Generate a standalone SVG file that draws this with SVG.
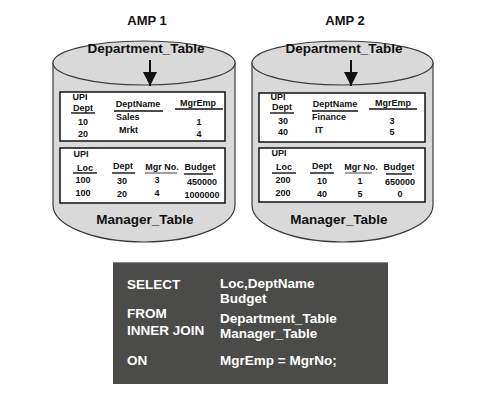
<svg xmlns="http://www.w3.org/2000/svg" width="500" height="400" viewBox="0 0 500 400">
<defs>
<style>
.cyl{fill:#d9d9d9;stroke:#3a3a3a;stroke-width:1.2}
.tbl{fill:#ffffff;stroke:#111;stroke-width:1.5}
.t{font-family:"Liberation Sans",Arial,sans-serif;font-weight:bold;fill:#111}
.h{font-size:13px}
.big{font-size:13.5px}
.s{font-size:9px}
.c{text-anchor:middle}
.ul{stroke:#111;stroke-width:1.4}
.ulg{stroke:#888;stroke-width:1.6}
.sql{font-family:"Liberation Sans",Arial,sans-serif;font-weight:bold;font-size:13.5px;fill:#ffffff}
</style>
<marker id="ah" viewBox="0 0 14 14" refX="14" refY="7" markerWidth="14" markerHeight="14" markerUnits="userSpaceOnUse" orient="auto">
<path d="M0,0 L14,7 L0,14 Z" fill="#111"/>
</marker>
</defs>
<rect width="500" height="400" fill="#ffffff"/>

<g id="amp1">
<text class="t h c" x="147" y="25">AMP 1</text>
<path class="cyl" d="M53,63 L53,205 A91,37 0 0 0 235,205 L235,63 Z"/>
<ellipse class="cyl" cx="144" cy="63" rx="91" ry="22"/>
<text class="t big c" x="146" y="53">Department_Table</text>
<rect class="tbl" x="60" y="92" width="165" height="49"/>
<text class="t s c" x="80" y="99.5">UPI</text>
<text class="t s c" x="83" y="110.5">Dept</text>
<line class="ul" x1="71" y1="113" x2="95" y2="113"/>
<text class="t s c" x="138" y="107">DeptName</text>
<line class="ul" x1="114" y1="111" x2="163" y2="111"/>
<text class="t s c" x="198" y="106">MgrEmp</text>
<line class="ul" x1="175" y1="109" x2="223" y2="109"/>
<text class="t s c" x="83" y="125">10</text>
<text class="t s" x="116" y="120">Sales</text>
<text class="t s c" x="199" y="125">1</text>
<text class="t s c" x="83" y="137">20</text>
<text class="t s" x="119" y="133">Mrkt</text>
<text class="t s c" x="199" y="137">4</text>
<rect class="tbl" x="60" y="148" width="165" height="55"/>
<text class="t s c" x="81" y="157">UPI</text>
<text class="t s c" x="85" y="171">Loc</text>
<line class="ul" x1="73" y1="173" x2="97" y2="173"/>
<text class="t s c" x="123" y="169">Dept</text>
<line class="ul" x1="112" y1="173" x2="135" y2="173"/>
<text class="t s c" x="162" y="170">Mgr No.</text>
<line class="ulg" x1="145" y1="173" x2="177" y2="173"/>
<text class="t s c" x="200" y="170">Budget</text>
<line class="ul" x1="184" y1="174" x2="213" y2="174"/>
<text class="t s c" x="83" y="183">100</text>
<text class="t s c" x="122" y="184">30</text>
<text class="t s c" x="157" y="183">3</text>
<text class="t s c" x="202" y="185">450000</text>
<text class="t s c" x="83" y="196">100</text>
<text class="t s c" x="122" y="197">20</text>
<text class="t s c" x="157" y="196">4</text>
<text class="t s c" x="202" y="198">1000000</text>
<text class="t big c" x="145" y="224">Manager_Table</text>
</g>

<g id="amp2">
<text class="t h c" x="345" y="25">AMP 2</text>
<path class="cyl" d="M252,63 L252,205 A90.5,37 0 0 0 433,205 L433,63 Z"/>
<ellipse class="cyl" cx="342.5" cy="63" rx="90.5" ry="22"/>
<text class="t big c" x="344" y="53">Department_Table</text>
<rect class="tbl" x="259" y="93" width="166" height="49"/>
<text class="t s c" x="278" y="99.5">UPI</text>
<text class="t s c" x="282" y="110">Dept</text>
<line class="ul" x1="270" y1="113" x2="294" y2="113"/>
<text class="t s c" x="335" y="107">DeptName</text>
<line class="ul" x1="312" y1="111" x2="358" y2="111"/>
<text class="t s c" x="393" y="106">MgrEmp</text>
<line class="ul" x1="369" y1="109" x2="417" y2="109"/>
<text class="t s c" x="283" y="124">30</text>
<text class="t s" x="312" y="120">Finance</text>
<text class="t s c" x="392" y="124">3</text>
<text class="t s c" x="283" y="135">40</text>
<text class="t s" x="315" y="133">IT</text>
<text class="t s c" x="392" y="135">5</text>
<rect class="tbl" x="259" y="148" width="166" height="54"/>
<text class="t s c" x="279" y="156">UPI</text>
<text class="t s c" x="284" y="170">Loc</text>
<line class="ul" x1="272" y1="173" x2="296" y2="173"/>
<text class="t s c" x="322" y="169">Dept</text>
<line class="ul" x1="310" y1="173" x2="334" y2="173"/>
<text class="t s c" x="361" y="170">Mgr No.</text>
<line class="ulg" x1="345" y1="173" x2="372" y2="173"/>
<text class="t s c" x="399" y="170">Budget</text>
<line class="ul" x1="386" y1="174" x2="412" y2="174"/>
<text class="t s c" x="283" y="183">200</text>
<text class="t s c" x="322" y="184">10</text>
<text class="t s c" x="360" y="184">1</text>
<text class="t s c" x="400" y="185">650000</text>
<text class="t s c" x="283" y="196">200</text>
<text class="t s c" x="322" y="197">40</text>
<text class="t s c" x="360" y="197">5</text>
<text class="t s c" x="400" y="197">0</text>
<text class="t big c" x="339" y="224">Manager_Table</text>
</g>

<g id="connectors">
<line x1="150" y1="60" x2="150" y2="86" stroke="#111" stroke-width="2" marker-end="url(#ah)"/>
<line x1="351" y1="60" x2="351" y2="86" stroke="#111" stroke-width="2" marker-end="url(#ah)"/>
</g>

<g id="sql">
<rect x="113" y="262" width="275" height="122" fill="#4b4b49"/>
<line x1="113" y1="262.5" x2="388" y2="262.5" stroke="#8a8a88" stroke-width="1"/>
<text class="sql" x="127" y="289">SELECT</text>
<text class="sql" x="220" y="288">Loc,DeptName</text>
<text class="sql" x="220" y="303">Budget</text>
<text class="sql" x="127" y="318">FROM</text>
<text class="sql" x="220" y="323">Department_Table</text>
<text class="sql" x="127" y="335">INNER JOIN</text>
<text class="sql" x="220" y="338">Manager_Table</text>
<text class="sql" x="127" y="365">ON</text>
<text class="sql" x="220" y="365">MgrEmp = MgrNo;</text>
</g>
</svg>
